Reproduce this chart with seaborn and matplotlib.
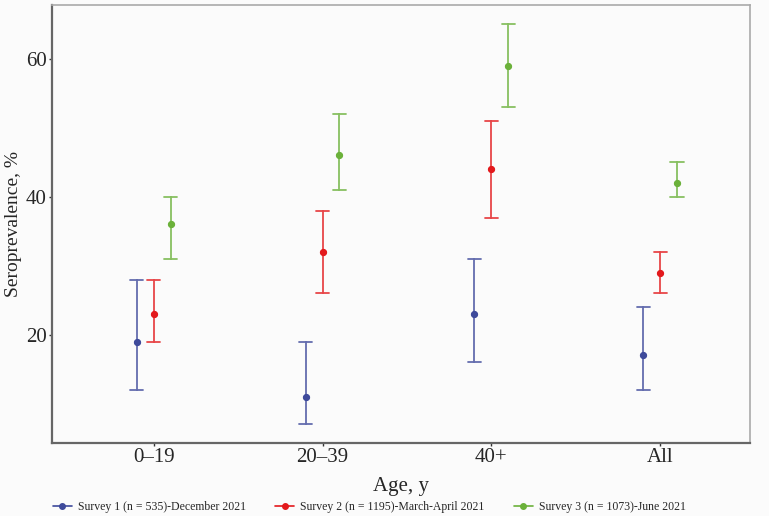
import pandas as pd
import numpy as np
import matplotlib.pyplot as plt
import seaborn as sns
from matplotlib.lines import Line2D

# ---------------------------------------------
# Data: point estimate and 95% CI per survey
# ---------------------------------------------
age_groups = ['0–19', '20–39', '40+', 'All']
surveys = ['Survey 1 (n = 535)-December 2021',
           'Survey 2 (n = 1195)-March-April 2021',
           'Survey 3 (n = 1073)-June 2021']

s1_est = [19, 11, 23, 17]
s1_lo  = [12, 7, 16, 12]
s1_hi  = [28, 19, 31, 24]

s2_est = [23, 32, 44, 29]
s2_lo  = [19, 26, 37, 26]
s2_hi  = [28, 38, 51, 32]

s3_est = [36, 46, 59, 42]
s3_lo  = [31, 41, 53, 40]
s3_hi  = [40, 52, 65, 45]

colors = ['#3E4A9B', '#E3191C', '#6BB13A']

# long-form table: lo / est / hi rows, median = estimate, min-max = CI
rows = []
for name, est, lo, hi in zip(surveys,
                             [s1_est, s2_est, s3_est],
                             [s1_lo, s2_lo, s3_lo],
                             [s1_hi, s2_hi, s3_hi]):
    for g, e, l, h in zip(age_groups, est, lo, hi):
        for v in (l, e, h):
            rows.append({'age': g, 'survey': name, 'value': v})
df = pd.DataFrame(rows)

sns.set_style('white')
plt.rcParams['font.family'] = ['Liberation Serif', 'DejaVu Serif']

fig = plt.figure(figsize=(7.69, 5.16), dpi=100)
fig.patch.set_facecolor('#FBFBFB')
ax = fig.add_axes([0.068, 0.142, 0.907, 0.848])
ax.set_facecolor('#FBFBFB')

sns.pointplot(data=df, x='age', y='value', hue='survey',
              order=age_groups, hue_order=surveys, palette=colors,
              estimator='median', errorbar=lambda v: (v.min(), v.max()),
              dodge=0.2, linestyle='none', markers='o', markersize=3.2,
              capsize=0.08, err_kws={'linewidth': 1.3, 'alpha': 0.8},
              legend=False, ax=ax)

ax.set_xlim(-0.6, 3.53)
ax.set_ylim(4.35, 67.8)
ax.set_yticks([20, 40, 60])
ax.set_xlabel('Age, y', fontsize=15, labelpad=7)
ax.set_ylabel('Seroprevalence, %', fontsize=14, labelpad=3)
ax.tick_params(axis='both', labelsize=15, length=2, width=1, color='#333333',
               direction='out', bottom=True, left=True, pad=2)

for side in ['left', 'bottom']:
    ax.spines[side].set_color('#666666')
    ax.spines[side].set_linewidth(1.6)
for side in ['top', 'right']:
    ax.spines[side].set_color('#AAAAAA')
    ax.spines[side].set_linewidth(1.2)

handles = [Line2D([0], [0], color=c, marker='o', markersize=4, linewidth=1.2)
           for c in colors]
fig.legend(handles, surveys, loc='lower center', ncol=3, frameon=False,
           fontsize=8.5, bbox_to_anchor=(0.48, -0.015), handlelength=1.6,
           columnspacing=2.5, handletextpad=0.5)

fig.savefig('out.png', dpi=100, facecolor=fig.get_facecolor())
